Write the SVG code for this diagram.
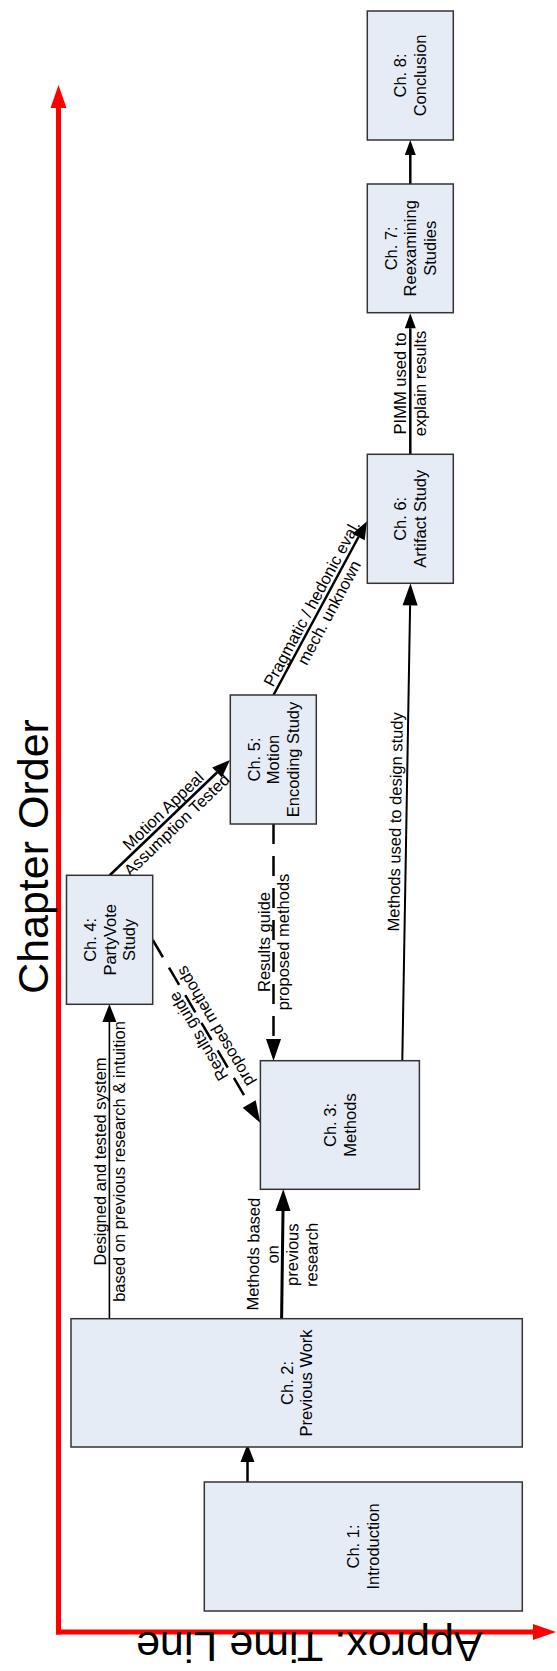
<svg xmlns="http://www.w3.org/2000/svg" width="557" height="1671" viewBox="0 0 557 1671">
  <style>
    .node rect { fill: #E6ECF6; stroke: #333333; stroke-width: 1.5; }
    text { font-family: "Liberation Sans", Arial, sans-serif; font-size: 16.5px; fill: #000000; }
    .ctr { text-anchor: middle; }
    .axis-title { font-size: 43px; text-anchor: middle; }
    .conn { fill: none; stroke: #000000; stroke-width: 2.5; }
    .thin { stroke-width: 1.6; }
    .dash { stroke-dasharray: 20 12; }
    .axis { fill: none; stroke: #FF0000; stroke-width: 5; }
  </style>
  <defs>
    <marker id="arrS" markerUnits="userSpaceOnUse" markerWidth="16" markerHeight="12" refX="0" refY="6" orient="auto" overflow="visible">
      <path d="M0,0.5 L15,6 L0,11.5 z" fill="#000000"/>
    </marker>
    <marker id="arrM" markerUnits="userSpaceOnUse" markerWidth="19" markerHeight="15" refX="0" refY="7" orient="auto" overflow="visible">
      <path d="M0,0 L18,7 L0,14 z" fill="#000000"/>
    </marker>
    <marker id="arrL" markerUnits="userSpaceOnUse" markerWidth="23" markerHeight="16" refX="0" refY="7.5" orient="auto" overflow="visible">
      <path d="M0,0 L22,7.5 L0,15 z" fill="#000000"/>
    </marker>
    <marker id="arrRed" markerUnits="userSpaceOnUse" markerWidth="24" markerHeight="17" refX="0" refY="8" orient="auto" overflow="visible">
      <path d="M0,0 L23,8 L0,16 z" fill="#FF0000"/>
    </marker>
  </defs>

  <!-- time / order axes -->
  <g id="axes">
    <path class="axis" d="M58.5,1634.5 L58.5,108" marker-end="url(#arrRed)"/>
    <path class="axis" d="M56,1632 L533,1632" marker-end="url(#arrRed)"/>
    <text class="axis-title" transform="translate(47.5,856.5) rotate(-90)">Chapter Order</text>
    <text class="axis-title" transform="translate(309.3,1632) rotate(180)">Approx. Time Line</text>
  </g>

  <!-- connectors -->
  <g id="connectors">
    <path class="conn" d="M410.3,184 L410.3,155" marker-end="url(#arrS)"/>
    <path class="conn" d="M410.3,454.3 L410.3,328.3" marker-end="url(#arrS)"/>
    <path class="conn" d="M247.5,1482 L247.5,1462" marker-end="url(#arrM)"/>
    <path class="conn" style="stroke-width:3" d="M281.6,1319 L283,1211" marker-end="url(#arrL)"/>
    <path class="conn thin" d="M109.4,1319 L109.4,1022" marker-end="url(#arrM)"/>
    <path class="conn" style="stroke-width:2" d="M402.3,1060.7 L410.1,605.3" marker-end="url(#arrL)"/>
    <path class="conn" d="M109.5,875.5 L217,772.5" marker-end="url(#arrM)"/>
    <path class="conn" d="M273.5,695 L358.5,537" marker-end="url(#arrM)"/>
    <path class="conn dash" d="M152.8,940 L249.2,1104" marker-end="url(#arrL)"/>
    <path class="conn dash" d="M273.5,824 L273.5,1039" marker-end="url(#arrL)"/>

    <!-- connector labels -->
    <text class="ctr" transform="translate(410.3,383.5) rotate(-90)"><tspan x="0" y="-3.85">PIMM used to</tspan><tspan x="0" y="15.65">explain results</tspan></text>
    <text class="ctr" transform="translate(320.25,608) rotate(-61.75)"><tspan x="0" y="-3.85">Pragmatic / hedonic eval.</tspan><tspan x="0" y="15.65">mech. unknown</tspan></text>
    <text class="ctr" transform="translate(169.75,817.75) rotate(-43.8)"><tspan x="0" y="-3.85">Motion Appeal</tspan><tspan x="0" y="15.65">Assumption Tested</tspan></text>
    <text class="ctr" transform="translate(406.5,822) rotate(-89)"><tspan x="0" y="-5.5">Methods used to design study</tspan></text>
    <text class="ctr" transform="translate(273.5,942) rotate(-90)"><tspan x="0" y="-3.85">Results guide</tspan><tspan x="0" y="15.65">proposed methods</tspan></text>
    <text class="ctr" transform="translate(206.6,1031.5) rotate(-120.46)"><tspan x="0" y="-3.85">Results guide</tspan><tspan x="0" y="15.65">proposed methods</tspan></text>
    <text class="ctr" transform="translate(109.4,1161.5) rotate(-90)"><tspan x="0" y="-3.85">Designed and tested system</tspan><tspan x="0" y="15.65">based on previous research &amp; intuition</tspan></text>
    <text class="ctr" transform="translate(282.4,1254.5) rotate(-89.3)"><tspan x="0" y="-23.35">Methods based</tspan><tspan x="0" y="-3.85">on</tspan><tspan x="0" y="15.65">previous</tspan><tspan x="0" y="35.15">research</tspan></text>
  </g>

  <!-- chapter nodes -->
  <g id="ch8" class="node">
    <rect x="367.3" y="11" width="86" height="129"/>
    <text class="ctr" transform="translate(410.3,75.5) rotate(-90)"><tspan x="0" y="-3.85">Ch. 8:</tspan><tspan x="0" y="15.65">Conclusion</tspan></text>
  </g>
  <g id="ch7" class="node">
    <rect x="367.3" y="184" width="86" height="128.7"/>
    <text class="ctr" transform="translate(410.3,248.3) rotate(-90)"><tspan x="0" y="-13.6">Ch. 7:</tspan><tspan x="0" y="5.9">Reexamining</tspan><tspan x="0" y="25.4">Studies</tspan></text>
  </g>
  <g id="ch6" class="node">
    <rect x="367.3" y="454.3" width="86" height="129"/>
    <text class="ctr" transform="translate(410.3,518.8) rotate(-90)"><tspan x="0" y="-3.85">Ch. 6:</tspan><tspan x="0" y="15.65">Artifact Study</tspan></text>
  </g>
  <g id="ch5" class="node">
    <rect x="230.3" y="695" width="86" height="129"/>
    <text class="ctr" transform="translate(273.3,759.5) rotate(-90)"><tspan x="0" y="-13.6">Ch. 5:</tspan><tspan x="0" y="5.9">Motion</tspan><tspan x="0" y="25.4">Encoding Study</tspan></text>
  </g>
  <g id="ch4" class="node">
    <rect x="66.5" y="875.3" width="86.2" height="129"/>
    <text class="ctr" transform="translate(109.6,939.8) rotate(-90)"><tspan x="0" y="-13.6">Ch. 4:</tspan><tspan x="0" y="5.9">PartyVote</tspan><tspan x="0" y="25.4">Study</tspan></text>
  </g>
  <g id="ch3" class="node">
    <rect x="260.4" y="1060.7" width="159" height="128.6"/>
    <text class="ctr" transform="translate(340,1125) rotate(-90)"><tspan x="0" y="-3.85">Ch. 3:</tspan><tspan x="0" y="15.65">Methods</tspan></text>
  </g>
  <g id="ch2" class="node">
    <rect x="71" y="1318.7" width="451.3" height="128.3"/>
    <text class="ctr" transform="translate(296.7,1382.9) rotate(-90)"><tspan x="0" y="-3.85">Ch. 2:</tspan><tspan x="0" y="15.65">Previous Work</tspan></text>
  </g>
  <g id="ch1" class="node">
    <rect x="204.3" y="1482" width="318" height="129"/>
    <text class="ctr" transform="translate(363.3,1546.5) rotate(-90)"><tspan x="0" y="-3.85">Ch. 1:</tspan><tspan x="0" y="15.65">Introduction</tspan></text>
  </g>
</svg>
